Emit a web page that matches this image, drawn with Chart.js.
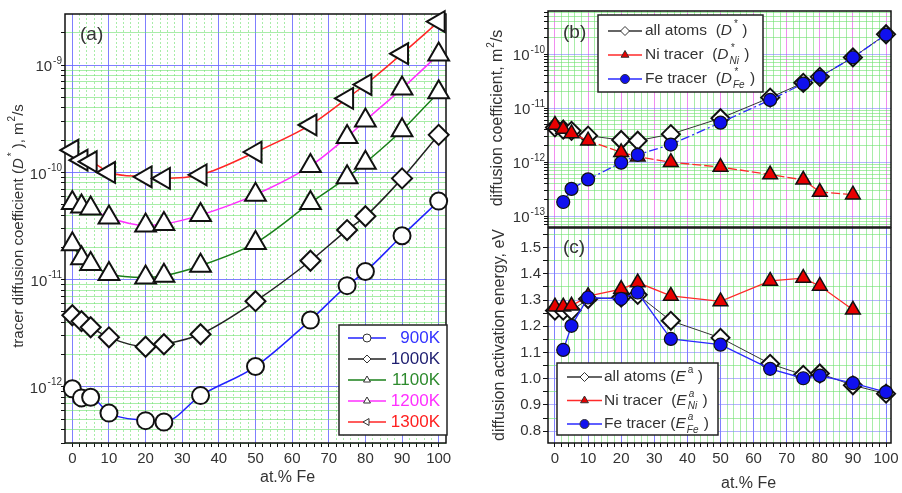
<!DOCTYPE html>
<html>
<head>
<meta charset="utf-8">
<title>Tracer diffusion in Ni-Fe</title>
<script src="https://cdn.jsdelivr.net/npm/chart.js@4.4.1/dist/chart.umd.min.js"></script>
<style>
  body { margin: 0; background: #fff; }
  #wrap { position: relative; width: 902px; height: 493px; overflow: hidden; }
  canvas { position: absolute; }
</style>
</head>
<body>
<div id="wrap">
  <canvas id="chartA" style="left:0;top:0;width:460px;height:493px" width="460" height="493"></canvas>
  <canvas id="chartB" style="left:460px;top:0;width:442px;height:240px" width="442" height="240"></canvas>
  <canvas id="chartC" style="left:460px;top:217px;width:442px;height:276px" width="442" height="276"></canvas>
</div>
<script>
// composition, at.% Fe
const xFe = [0, 2.5, 5, 10, 20, 25, 35, 50, 65, 75, 80, 90, 100];
const xNi = [0, 2.5, 5, 10, 20, 25, 35, 50, 65, 75, 80, 90];
const xFeTracer = [2.5, 5, 10, 20, 25, 35, 50, 65, 75, 80, 90, 100];

// (a) tracer diffusion coefficient, m2/s
const tempLabels = ['900K', '1000K', '1100K', '1200K', '1300K'];
const d900 = [9.6e-13, 7.9e-13, 8.0e-13, 5.7e-13, 4.85e-13, 4.7e-13, 8.3e-13, 1.55e-12, 4.2e-12, 8.8e-12, 1.19e-11, 2.57e-11, 5.4e-11];
const d1000 = [4.66e-12, 4.1e-12, 3.6e-12, 2.9e-12, 2.37e-12, 2.5e-12, 3.1e-12, 6.3e-12, 1.5e-11, 2.9e-11, 3.9e-11, 8.8e-11, 2.24e-10];
const d1100 = [2.14e-11, 1.58e-11, 1.4e-11, 1.13e-11, 1.05e-11, 1.09e-11, 1.35e-11, 2.2e-11, 5.2e-11, 9.0e-11, 1.23e-10, 2.47e-10, 5.6e-10];
const d1200 = [5.2e-11, 4.8e-11, 4.6e-11, 3.8e-11, 3.2e-11, 3.3e-11, 4.0e-11, 6.2e-11, 1.15e-10, 2.14e-10, 3.05e-10, 6.05e-10, 1.26e-9];
const d1300 = [1.61e-10, 1.3e-10, 1.26e-10, 1.0e-10, 9.1e-11, 8.8e-11, 9.5e-11, 1.55e-10, 2.77e-10, 4.9e-10, 6.6e-10, 1.28e-9, 2.55e-9];

// (b) diffusion coefficient at 1000K, m2/s
const dAll = [4.4e-12, 4.0e-12, 3.8e-12, 3.1e-12, 2.57e-12, 2.5e-12, 3.3e-12, 6.5e-12, 1.57e-11, 2.95e-11, 3.8e-11, 8.7e-11, 2.34e-10];
const dNi = [4.9e-12, 4.1e-12, 3.4e-12, 2.5e-12, 1.52e-12, 1.26e-12, 1.0e-12, 8.1e-13, 5.9e-13, 4.7e-13, 2.8e-13, 2.5e-13];
const dFe = [1.83e-13, 3.2e-13, 4.8e-13, 9.8e-13, 1.37e-12, 2.12e-12, 5.4e-12, 1.42e-11, 2.84e-11, 3.8e-11, 8.7e-11, 2.3e-10];

// (c) activation energy, eV
const eAll = [1.26, 1.26, 1.26, 1.304, 1.31, 1.32, 1.221, 1.156, 1.057, 1.015, 1.02, 0.975, 0.943];
const eNi = [1.275, 1.275, 1.278, 1.315, 1.342, 1.367, 1.316, 1.295, 1.373, 1.384, 1.354, 1.263];
const eFe = [1.11, 1.202, 1.31, 1.305, 1.329, 1.152, 1.13, 1.038, 1.002, 1.012, 0.983, 0.949];

// axis ticks
const xGridTicks = [];
for (let v = 0; v <= 100; v += 2) xGridTicks.push(v);
const energyGridTicks = [];
for (let i = 16; i <= 31; i++) energyGridTicks.push(i / 20);

const FONT = "'Liberation Sans', Arial, Helvetica, sans-serif";
const BLUE = 'rgba(105,105,255,0.85)';
const BLUE_LIGHT = 'rgba(120,120,255,0.55)';
const MAGENTA = 'rgba(238,120,238,0.85)';
const GREEN = 'rgba(110,225,110,0.6)';
const TEXT = '#333';

function font(size, italic) {
    return (italic ? 'italic ' : '') + size + 'px ' + FONT;
}

// text with super/subscripts
function measureParts(ctx, parts, size) {
    let w = 0;
    parts.forEach(p0 => {
        const p = typeof p0 === 'string' ? { t: p0 } : p0;
        ctx.font = font(size, p.i);
        w += ctx.measureText(p.t || '').width;
        ctx.font = font(Math.round(size * 0.65), p.si);
        const sw = Math.max(p.sup ? ctx.measureText(p.sup).width : 0, p.sub ? ctx.measureText(p.sub).width : 0);
        if (sw) w += sw + (p.i ? 2 : 1);
    });
    return w;
}

function drawParts(ctx, parts, x, y, size) {
    ctx.textAlign = 'left';
    ctx.textBaseline = 'middle';
    parts.forEach(p0 => {
        const p = typeof p0 === 'string' ? { t: p0 } : p0;
        ctx.font = font(size, p.i);
        if (p.t) {
            ctx.fillText(p.t, x, y);
            x += ctx.measureText(p.t).width;
        }
        ctx.font = font(Math.round(size * 0.65), p.si);
        const off = p.i ? 2 : 1;
        let sw = 0;
        if (p.sup) {
            ctx.fillText(p.sup, x + off, y - size * 0.42);
            sw = ctx.measureText(p.sup).width;
        }
        if (p.sub) {
            ctx.fillText(p.sub, x + off - 1, y + size * 0.38);
            sw = Math.max(sw, ctx.measureText(p.sub).width);
        }
        if (sw) x += sw + off;
    });
    return x;
}

function drawRotTitle(ctx, parts, cx, cy, size) {
    ctx.save();
    ctx.translate(cx, cy);
    ctx.rotate(-Math.PI / 2);
    ctx.fillStyle = TEXT;
    const w = measureParts(ctx, parts, size);
    drawParts(ctx, parts, -w / 2, 0, size);
    ctx.restore();
}

function drawLogLabels(chart, right, size) {
    const ctx = chart.ctx, s = chart.scales.y;
    ctx.save();
    ctx.fillStyle = TEXT;
    s.ticks.forEach(t => {
        if (!t.dec) return;
        const e = Math.round(Math.log10(t.value));
        const parts = ['10', { sup: '-' + Math.abs(e) }];
        const w = measureParts(ctx, parts, size);
        drawParts(ctx, parts, right - w, s.getPixelForValue(t.value) + 2, size);
    });
    ctx.restore();
}

function drawText(ctx, text, x, y, size, color, align) {
    ctx.save();
    ctx.font = font(size);
    ctx.fillStyle = color || TEXT;
    ctx.textAlign = align || 'left';
    ctx.textBaseline = 'middle';
    ctx.fillText(text, x, y);
    ctx.restore();
}

function legendBox(ctx, x, y, w, h) {
    ctx.save();
    ctx.fillStyle = '#fff';
    ctx.fillRect(x, y, w, h);
    ctx.strokeStyle = '#222';
    ctx.lineWidth = 1.5;
    ctx.strokeRect(x, y, w, h);
    ctx.restore();
}

function legendSample(ctx, x1, x2, y, ds, radius) {
    ctx.save();
    ctx.strokeStyle = ds.borderColor;
    ctx.lineWidth = 1.5;
    ctx.beginPath();
    ctx.moveTo(x1, y);
    ctx.lineTo(x2, y);
    ctx.stroke();
    ctx.fillStyle = ds.pointBackgroundColor;
    ctx.strokeStyle = ds.legendBorder || '#333';
    ctx.lineWidth = 1;
    Chart.helpers.drawPoint(ctx, {
        pointStyle: ds.pointStyle, rotation: ds.pointRotation || 0, radius: radius, borderWidth: 1
    }, (x1 + x2) / 2, y);
    ctx.restore();
}

const framePlugin = {
    id: 'frame',
    beforeDatasetsDraw(chart) {
        const a = chart.chartArea, ctx = chart.ctx;
        ctx.save();
        ctx.strokeStyle = '#111';
        ctx.lineWidth = 1.5;
        ctx.strokeRect(a.left, a.top, a.right - a.left, a.bottom - a.top);
        ctx.restore();
    }
};

function xAxis(min, max, majorColor, minorDash, showLabels, fitHeight) {
    return {
        type: 'linear', min: min, max: max,
        afterBuildTicks: s => { s.ticks = xGridTicks.map(v => ({ value: v })); },
        afterFit: s => { s.height = fitHeight; s.paddingLeft = 0; s.paddingRight = 0; },
        ticks: {
            display: showLabels, autoSkip: false, maxRotation: 0, padding: 3,
            font: { family: FONT, size: 15 }, color: TEXT,
            callback: v => (v % 10 === 0 ? String(v) : '')
        },
        grid: {
            color: c => (c.tick && c.tick.value % 10 === 0 ? majorColor : GREEN),
            lineWidth: 1, drawTicks: showLabels, tickLength: 4, tickColor: '#111', tickWidth: 1
        },
        border: { display: false, dash: c => (c.tick && c.tick.value % 10 === 0 ? [] : minorDash) }
    };
}

function logAxis(min, max, majorColor, fitWidth) {
    return {
        type: 'logarithmic', min: min, max: max,
        afterBuildTicks: s => {
            const t = [];
            for (let e = Math.floor(Math.log10(min)); e <= Math.floor(Math.log10(max)); e++) {
                for (let m = 1; m <= 9; m++) {
                    const v = m * Math.pow(10, e);
                    if (v >= min && v <= max) t.push({ value: v, dec: m === 1 });
                }
            }
            s.ticks = t;
        },
        afterFit: s => { s.width = fitWidth; s.paddingTop = 0; s.paddingBottom = 0; },
        ticks: { display: false },
        grid: {
            color: c => (c.tick && c.tick.dec ? majorColor : GREEN),
            lineWidth: 1, drawTicks: true, tickLength: 4, tickColor: '#111', tickWidth: 1
        },
        border: { display: false }
    };
}

function pts(xs, ys) {
    return xs.map((x, i) => ({ x: x, y: ys[i] }));
}

function baseOptions(padding, scales) {
    return {
        responsive: false,
        animation: false,
        layout: { padding: padding },
        plugins: { legend: { display: false }, tooltip: { enabled: false } },
        scales: scales
    };
}

// ======= (a) tracer diffusion vs composition =======
const seriesA = [
    { label: tempLabels[0], ys: d900, color: '#2222ff', text: '#3333ff', style: 'circle', r: 8.5 },
    { label: tempLabels[1], ys: d1000, color: '#222222', text: '#1e1e70', style: 'rectRot', r: 10 },
    { label: tempLabels[2], ys: d1100, color: '#1a801a', text: '#2e8b2e', style: 'triangle', r: 12 },
    { label: tempLabels[3], ys: d1200, color: '#ff30ff', text: '#ff30ff', style: 'triangle', r: 12 },
    { label: tempLabels[4], ys: d1300, color: '#ff2626', text: '#ff2020', style: 'triangle', r: 12, rot: -90 }
];

const datasetsA = seriesA.map(s => ({
    label: s.label,
    data: pts(xFe, s.ys),
    borderColor: s.color,
    borderWidth: 1.5,
    cubicInterpolationMode: 'monotone',
    fill: false,
    clip: false,
    pointStyle: s.style,
    pointRotation: s.rot || 0,
    pointRadius: s.r,
    pointBackgroundColor: '#fff',
    pointBorderColor: '#111',
    pointBorderWidth: 2,
    legendText: s.text
}));

new Chart(document.getElementById('chartA'), {
    type: 'line',
    data: { datasets: datasetsA },
    options: baseOptions({ left: 0, right: 5, top: 10, bottom: 0 }, {
        x: xAxis(-2, 102, BLUE, [2, 2], true, 50),
        y: logAxis(3e-13, 3e-9, BLUE, 65)
    }),
    plugins: [framePlugin, {
        id: 'decorA',
        afterDraw(chart) {
            const ctx = chart.ctx;
            drawLogLabels(chart, 62, 15);
            drawRotTitle(ctx, ['tracer diffusion coefficient (', { t: 'D', i: true, sup: '*' }, ' ), m', { sup: '2' }, '/s'], 19, 226, 15);
            drawText(ctx, 'at.% Fe', 260, 478, 16);
            drawText(ctx, '(a)', 80, 35, 19);
            // legend
            legendBox(ctx, 339, 325, 108, 110);
            chart.data.datasets.forEach((ds, i) => {
                const y = 338 + i * 21;
                legendSample(ctx, 348, 386, y, ds, 4);
                drawText(ctx, ds.label, 440, y, 17, ds.legendText, 'right');
            });
        }
    }]
});

// ======= (b) diffusion coefficients at 1000K =======
const datasetsB = [
    {
        data: pts(xFe, dAll), borderColor: '#333', borderWidth: 1, order: 3, clip: false,
        pointStyle: 'rectRot', pointRadius: 9, pointBackgroundColor: '#fff', pointBorderColor: '#111', pointBorderWidth: 2
    },
    {
        data: pts(xNi, dNi), borderColor: '#ff2a2a', borderWidth: 1.3, borderDash: [9, 3], order: 2, clip: false,
        pointStyle: 'triangle', pointRadius: 8.5, pointBackgroundColor: '#e80000', pointBorderColor: '#111', pointBorderWidth: 1.5
    },
    {
        data: pts(xFeTracer, dFe), borderColor: '#2a2aff', borderWidth: 1.3, borderDash: [9, 3, 2, 3], order: 1, clip: false,
        pointStyle: 'circle', pointRadius: 6.5, pointBackgroundColor: '#1010ee', pointBorderColor: '#111', pointBorderWidth: 1.2
    }
];

const legendB = [
    ['all atoms  (', { t: 'D', i: true, sup: '*' }, ' )'],
    ['Ni tracer  (', { t: 'D', i: true, sup: '*', sub: 'Ni', si: true }, ' )'],
    ['Fe tracer  (', { t: 'D', i: true, sup: '*', sub: 'Fe', si: true }, ' )']
];

new Chart(document.getElementById('chartB'), {
    type: 'line',
    data: { datasets: datasetsB },
    options: baseOptions({ left: 0, right: 8, top: 10, bottom: 0 }, {
        x: xAxis(-2.1, 101.5, MAGENTA, [], false, 13),
        y: logAxis(6.3e-14, 6.3e-10, BLUE_LIGHT, 88)
    }),
    plugins: [framePlugin, {
        id: 'decorB',
        afterDraw(chart) {
            const ctx = chart.ctx;
            drawLogLabels(chart, 85, 15);
            drawRotTitle(ctx, ['diffusion coefficient, m', { sup: '2' }, '/s'], 38, 118, 16);
            drawText(ctx, '(b)', 103, 33, 19);
            legendBox(ctx, 138, 15, 165, 77);
            chart.data.datasets.forEach((ds, i) => {
                const y = 31 + i * 24;
                legendSample(ctx, 148, 182, y, Object.assign({}, ds, { legendBorder: '#333' }), 4.5);
                ctx.save();
                ctx.fillStyle = TEXT;
                drawParts(ctx, legendB[i], 185, y, 15.5);
                ctx.restore();
            });
        }
    }]
});

// ======= (c) activation energies =======
const datasetsC = [
    {
        data: pts(xFe, eAll), borderColor: '#333', borderWidth: 1, order: 3, clip: false,
        pointStyle: 'rectRot', pointRadius: 9, pointBackgroundColor: '#fff', pointBorderColor: '#111', pointBorderWidth: 2
    },
    {
        data: pts(xNi, eNi), borderColor: '#ff2a2a', borderWidth: 1.3, order: 2, clip: false,
        pointStyle: 'triangle', pointRadius: 8.5, pointBackgroundColor: '#e80000', pointBorderColor: '#111', pointBorderWidth: 1.5
    },
    {
        data: pts(xFeTracer, eFe), borderColor: '#2a2aff', borderWidth: 1.3, order: 1, clip: false,
        pointStyle: 'circle', pointRadius: 6.5, pointBackgroundColor: '#1010ee', pointBorderColor: '#111', pointBorderWidth: 1.2
    }
];

const legendC = [
    ['all atoms (', { t: 'E', i: true, sup: 'a' }, ' )'],
    ['Ni tracer  (', { t: 'E', i: true, sup: 'a', sub: 'Ni', si: true }, ' )'],
    ['Fe tracer (', { t: 'E', i: true, sup: 'a', sub: 'Fe', si: true }, ' )']
];

const isTenth = v => Math.round(v * 20) % 2 === 0;

new Chart(document.getElementById('chartC'), {
    type: 'line',
    data: { datasets: datasetsC },
    options: baseOptions({ left: 0, right: 8, top: 10, bottom: 0 }, {
        x: xAxis(-2.1, 101.5, BLUE, [], true, 50),
        y: {
            type: 'linear', min: 0.755, max: 1.575,
            afterBuildTicks: s => { s.ticks = energyGridTicks.map(v => ({ value: v })); },
            afterFit: s => { s.width = 88; s.paddingTop = 0; s.paddingBottom = 0; },
            ticks: {
                autoSkip: false, padding: 2, font: { family: FONT, size: 15 }, color: TEXT,
                callback: v => (isTenth(v) ? v.toFixed(1) : '')
            },
            grid: {
                color: c => (c.tick && isTenth(c.tick.value) ? BLUE_LIGHT : GREEN),
                lineWidth: 1, drawTicks: true, tickLength: 5, tickColor: '#111', tickWidth: 1
            },
            border: { display: false }
        }
    }),
    plugins: [framePlugin, {
        id: 'decorC',
        afterDraw(chart) {
            const ctx = chart.ctx;
            drawRotTitle(ctx, ['diffusion activation energy, eV'], 40, 118, 16);
            drawText(ctx, 'at.% Fe', 261, 267, 16);
            drawText(ctx, '(c)', 103, 31, 19);
            legendBox(ctx, 97, 146, 161, 72);
            chart.data.datasets.forEach((ds, i) => {
                const y = 160 + i * 23.5;
                legendSample(ctx, 107, 142, y, Object.assign({}, ds, { legendBorder: '#333' }), 4.5);
                ctx.save();
                ctx.fillStyle = TEXT;
                drawParts(ctx, legendC[i], 144, y, 15.5);
                ctx.restore();
            });
        }
    }]
});
</script>
</body>
</html>
